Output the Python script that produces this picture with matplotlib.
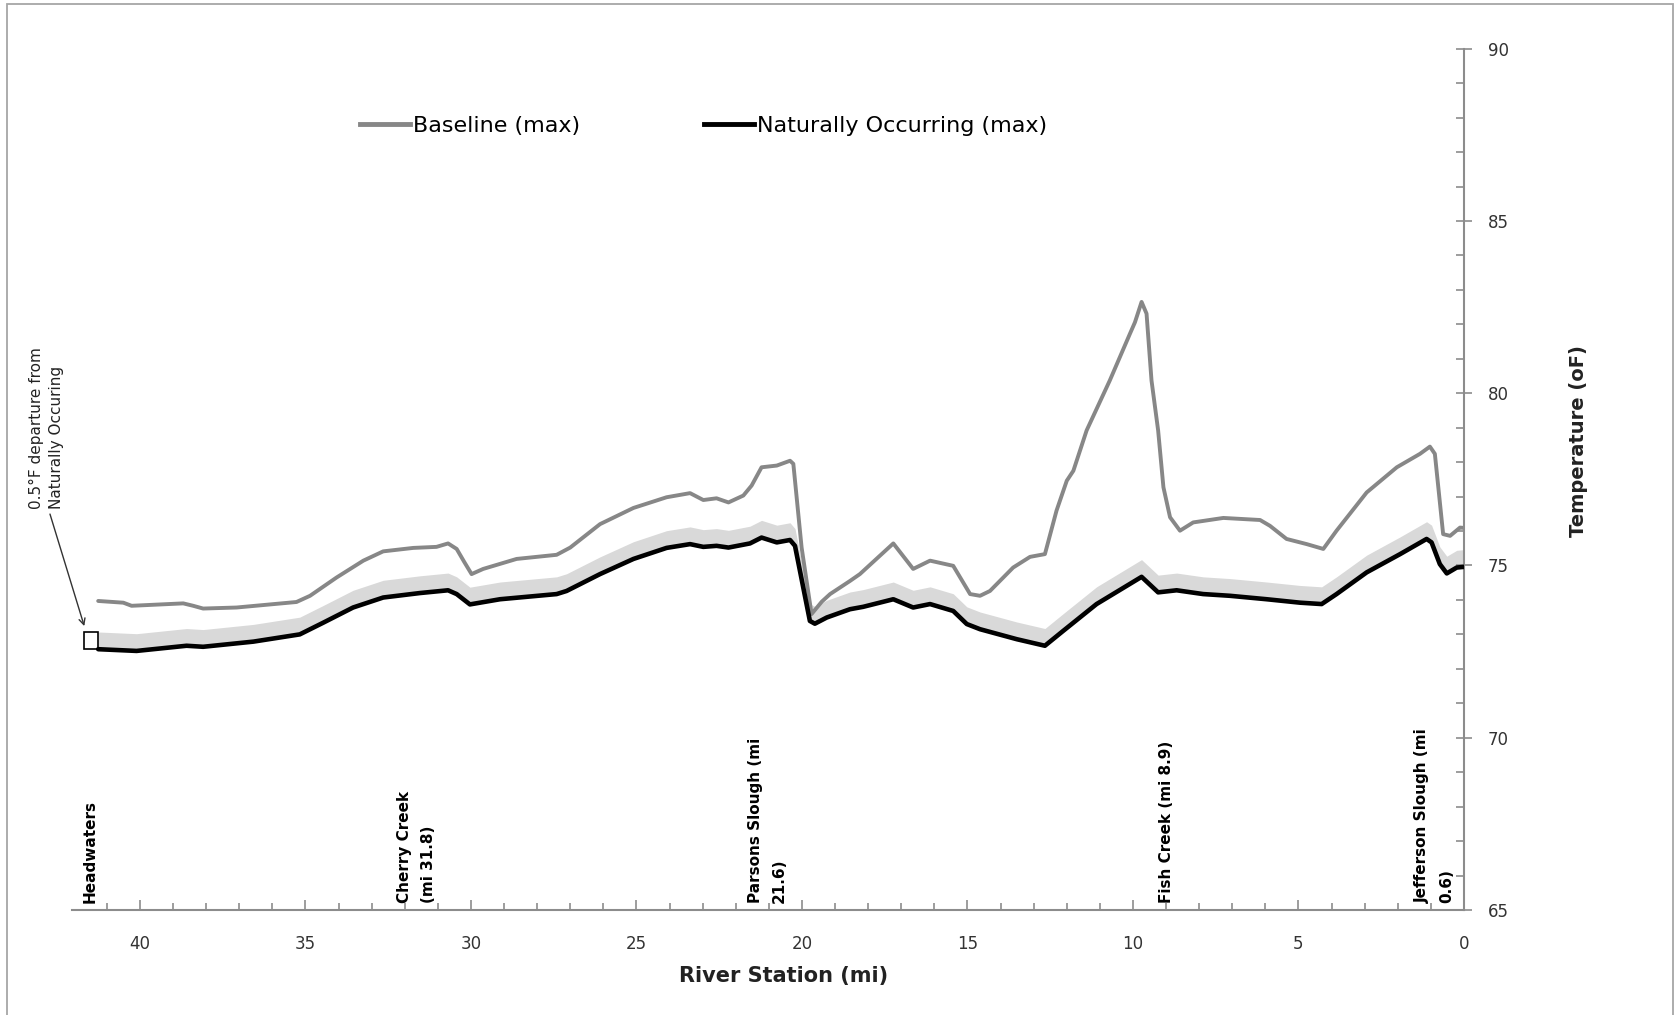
import numpy as np
import matplotlib.pyplot as plt
from matplotlib.lines import Line2D
from matplotlib.patches import Rectangle

# -------------------------
# Data
# -------------------------
baseline_mi = [41.26, 40.50, 40.25, 38.69, 38.39, 38.09, 37.08, 35.27, 34.86, 34.06,
               33.25, 32.65, 31.74, 31.04, 30.69, 30.43, 30.20, 29.98, 29.63, 28.62,
               27.41, 27.00, 26.10, 25.09, 24.09, 23.38, 22.98, 22.58, 22.22, 21.77,
               21.52, 21.22, 20.76, 20.36, 20.26, 20.01, 19.71, 19.40, 19.15, 18.55,
               18.25, 17.24, 16.64, 16.13, 15.43, 14.92, 14.62, 14.32, 13.62, 13.11,
               12.66, 12.31, 12.00, 11.80, 11.40, 10.70, 10.09, 9.94, 9.74, 9.59,
               9.44, 9.24, 9.08, 8.88, 8.58, 8.18, 7.27, 6.16, 5.86, 5.36,
               4.75, 4.25, 3.85, 2.94, 2.03, 1.33, 1.03, 0.88, 0.63, 0.42,
               0.12, 0.00]
baseline_temp = [73.97, 73.92, 73.83, 73.90, 73.83, 73.75, 73.78, 73.94, 74.12, 74.65,
                 75.14, 75.41, 75.51, 75.54, 75.64, 75.48, 75.10, 74.75, 74.90, 75.19,
                 75.31, 75.52, 76.20, 76.67, 76.98, 77.10, 76.90, 76.95, 76.83, 77.03,
                 77.32, 77.85, 77.90, 78.04, 77.95, 75.52, 73.59, 73.95, 74.17, 74.55,
                 74.75, 75.64, 74.90, 75.14, 74.99, 74.17, 74.12, 74.26, 74.94, 75.25,
                 75.33, 76.59, 77.46, 77.75, 78.92, 80.37, 81.73, 82.06, 82.65, 82.31,
                 80.37, 78.92, 77.27, 76.40, 76.01, 76.25, 76.38, 76.32, 76.15, 75.77,
                 75.62, 75.48, 76.01, 77.12, 77.85, 78.24, 78.45, 78.24, 75.91, 75.86,
                 76.10, 76.09]

natural_mi = [41.26, 40.10, 38.59, 38.09, 36.57, 35.17, 34.46, 33.56, 32.65, 31.54,
              30.69, 30.43, 30.03, 29.12, 27.41, 27.11, 26.10, 25.09, 24.09, 23.38,
              22.98, 22.58, 22.22, 21.57, 21.22, 20.76, 20.36, 20.21, 19.76, 19.61,
              19.25, 18.55, 18.15, 17.24, 16.64, 16.13, 15.43, 15.02, 14.62, 13.51,
              12.66, 12.11, 11.10, 9.74, 9.24, 8.68, 7.88, 7.07, 5.96, 4.95,
              4.30, 3.85, 2.94, 1.93, 1.13, 0.98, 0.73, 0.52, 0.22, 0.00]
natural_temp = [72.57, 72.52, 72.67, 72.64, 72.79, 73.00, 73.34, 73.78, 74.07, 74.20,
                74.28, 74.17, 73.87, 74.02, 74.17, 74.26, 74.75, 75.19, 75.51, 75.62,
                75.54, 75.57, 75.52, 75.64, 75.81, 75.67, 75.74, 75.57, 73.39, 73.31,
                73.49, 73.73, 73.80, 74.02, 73.78, 73.88, 73.68, 73.30, 73.15, 72.86,
                72.67, 73.10, 73.88, 74.67, 74.22, 74.28, 74.17, 74.12, 74.02, 73.92,
                73.88, 74.17, 74.80, 75.33, 75.77, 75.67, 75.04, 74.77, 74.94, 74.96]

departure = 0.5   # degF band above naturally occurring

station_names = ["Headwaters", "Cherry Creek\n(mi 31.8)", "Parsons Slough (mi\n21.6)",
                 "Fish Creek (mi 8.9)", "Jefferson Slough (mi\n0.6)"]
station_mi = [41.5, 31.65, 21.05, 9.0, 0.88]

x_ticks = [40, 35, 30, 25, 20, 15, 10, 5, 0]
y_ticks = [65, 70, 75, 80, 85, 90]

# -------------------------
# Figure
# -------------------------
W, H, DPI = 1678, 1015, 100
GRAY = "#878787"
AX_GRAY = "#8c8c8c"

fig = plt.figure(figsize=(W / DPI, H / DPI), dpi=DPI)
ax = fig.add_axes([71.7 / W, 1 - 910 / H, (1464 - 71.7) / W, (910 - 48.7) / H])

nat = np.array(natural_temp)
ax.fill_between(natural_mi, nat, nat + departure, color="#d9d9d9", lw=0, zorder=1)
ax.plot(baseline_mi, baseline_temp, color=GRAY, lw=2.8, solid_capstyle="round",
        solid_joinstyle="round", zorder=2)
ax.plot(natural_mi, natural_temp, color="black", lw=3.3, solid_capstyle="round",
        solid_joinstyle="round", zorder=3)

ax.set_xlim(42.06, 0)
ax.set_ylim(65, 90)

for s in ["left", "top"]:
    ax.spines[s].set_visible(False)
for s in ["bottom", "right"]:
    ax.spines[s].set_color(AX_GRAY)
    ax.spines[s].set_linewidth(1.5)

ax.yaxis.tick_right()
ax.set_xticks(x_ticks)
ax.set_xticks(np.arange(0, 42, 1), minor=True)
ax.set_yticks(y_ticks)
ax.set_yticks(np.arange(65, 91, 1), minor=True)
ax.tick_params(axis="x", which="major", direction="in", length=7, width=1.2,
               color=AX_GRAY, pad=18, labelsize=12, labelcolor="#333333")
ax.tick_params(axis="x", which="minor", direction="in", length=5, width=1.2, color=AX_GRAY)
ax.tick_params(axis="y", which="major", direction="inout", length=12, width=1.2,
               color=AX_GRAY, pad=11, labelsize=12, labelcolor="#333333")
ax.tick_params(axis="y", which="minor", direction="in", length=6, width=1.2, color=AX_GRAY)
ax.tick_params(axis="y", which="both", left=False, right=True)

ax.set_xlabel("River Station (mi)", fontsize=15, fontweight="bold", color="#222222")
ax.xaxis.set_label_coords((784 - 71.7) / (1464 - 71.7), -(976 - 910) / (910 - 48.7))
ax.xaxis.label.set_va("center")
fig.text(1578 / W, 1 - 441 / H, "Temperature (oF)", rotation=90, ha="center", va="center",
         fontsize=14, fontweight="bold", color="#222222")

# station labels along the bottom
for name, m in zip(station_names, station_mi):
    ax.text(m, 65.2, name, rotation=90, ha="center", va="bottom", multialignment="left",
            fontsize=11, fontweight="bold", linespacing=1.75, zorder=4)

# bracket showing the 0.5F band height + callout
ax.add_patch(Rectangle((natural_mi[0], natural_temp[0]), 0.42, departure, fill=False,
                       edgecolor="black", lw=1.2, zorder=4, clip_on=False))
ax.annotate("0.5°F departure from\nNaturally Occuring",
            xy=(natural_mi[0] + 0.42, natural_temp[0] + departure + 0.17),
            xytext=(42.82, 76.65), rotation=90, ha="center", va="bottom",
            multialignment="left", fontsize=11, linespacing=1.45, color="#222222",
            annotation_clip=False,
            arrowprops=dict(arrowstyle="->", color="#333333", lw=1.0,
                            relpos=(0.55, 0.0), shrinkA=2, shrinkB=0))

# legend
handles = [Line2D([], [], color=GRAY, lw=3.5), Line2D([], [], color="black", lw=3.5)]
fig.legend(handles, ["Baseline (max)", "Naturally Occurring (max)"],
           loc="center left", bbox_to_anchor=(360 / W, 1 - 126 / H), ncol=2,
           frameon=False, fontsize=16, handlelength=2.25, handletextpad=0.12,
           columnspacing=5.6, borderpad=0, borderaxespad=0)

# chart area border
fig.add_artist(Rectangle((7 / W, -0.02), (1673 - 7) / W, 1.02 - 4 / H, fill=False,
                         edgecolor="#a6a6a6", lw=1.3, transform=fig.transFigure))

fig.savefig("out.png", dpi=DPI)
